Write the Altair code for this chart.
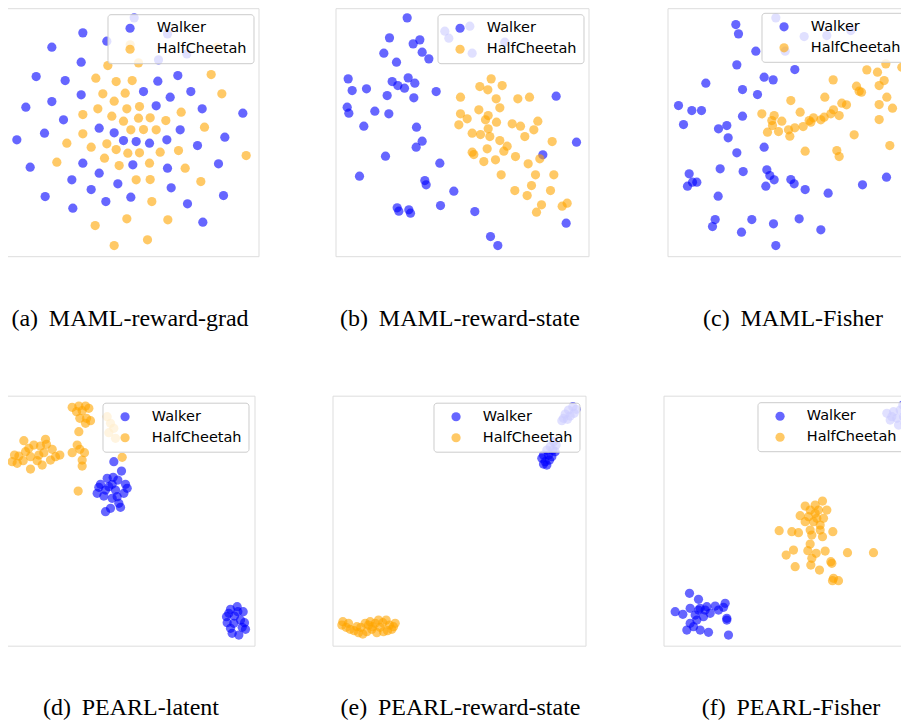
import altair as alt
import pandas as pd

SERIES = ["Walker", "HalfCheetah"]
COLORS = ["blue", "orange"]

CAPTIONS = [
    "(a) \u2009MAML-reward-grad",
    "(b) \u2009MAML-reward-state",
    "(c) \u2009MAML-Fisher",
    "(d) \u2009PEARL-latent",
    "(e) \u2009PEARL-reward-state",
    "(f) \u2009PEARL-Fisher",
]

# ---- (a) MAML-reward-grad : embedding coordinates ----
A_WALKER = [(258, 97), (165, 140), (330, 122), (412, 52), (512, 100), (570, 160), (485, 178),
            (253, 185), (118, 228), (205, 240), (483, 242), (543, 225), (253, 283), (440, 273),
            (582, 273), (520, 290), (165, 303), (478, 316), (87, 320), (616, 325), (738, 338),
            (200, 358), (307, 383), (550, 388), (143, 398), (352, 397), (60, 418), (380, 420),
            (418, 423), (458, 428), (510, 418), (684, 410), (602, 435), (258, 488), (408, 493),
            (100, 500), (512, 503), (665, 490), (307, 518), (225, 538), (363, 550), (283, 567),
            (523, 562), (145, 588), (402, 590), (327, 603), (680, 585), (228, 623), (572, 610),
            (618, 665)]
A_CHEETAH = [(660, 140), (400, 133), (333, 195), (425, 187), (643, 222), (297, 233), (358, 243),
             (406, 240), (675, 280), (318, 280), (385, 278), (352, 302), (303, 325), (390, 325),
             (428, 318), (553, 335), (258, 342), (345, 347), (425, 353), (460, 352), (380, 362),
             (507, 360), (623, 380), (402, 388), (440, 387), (478, 388), (258, 400), (210, 428),
             (330, 430), (283, 440), (358, 447), (393, 458), (428, 457), (490, 455), (545, 450),
             (323, 473), (180, 485), (458, 488), (367, 495), (565, 503), (418, 538), (460, 537),
             (612, 543), (748, 465), (465, 603), (390, 655), (513, 658), (295, 675), (452, 718),
             (352, 735)]

# ---- (b) MAML-reward-state ----
B_WALKER = [(240, 52), (187, 112), (278, 118), (258, 130), (285, 155), (305, 175), (170, 158),
            (208, 185), (353, 92), (365, 113), (428, 77), (435, 158), (533, 125), (63, 235),
            (195, 243), (243, 232), (212, 255), (232, 263), (263, 248), (75, 270), (118, 265),
            (180, 285), (260, 292), (327, 273), (60, 320), (65, 338), (143, 332), (185, 340),
            (110, 377), (268, 380), (285, 422), (267, 440), (175, 467), (338, 488), (97, 527),
            (293, 540), (297, 553), (380, 572), (210, 622), (215, 632), (245, 628), (250, 638),
            (340, 615), (443, 633), (490, 708), (512, 735), (687, 287), (748, 425), (647, 463),
            (717, 668)]
B_CHEETAH = [(492, 235), (458, 258), (482, 268), (525, 255), (400, 290), (507, 295), (572, 295),
             (607, 290), (518, 322), (455, 328), (400, 340), (420, 355), (483, 345), (475, 358),
             (508, 365), (395, 373), (555, 370), (580, 377), (632, 362), (620, 388), (483, 385),
             (435, 398), (460, 402), (488, 408), (593, 408), (518, 420), (675, 423), (540, 437),
             (480, 445), (530, 452), (435, 455), (440, 462), (565, 468), (638, 475), (470, 483),
             (505, 478), (603, 490), (625, 523), (522, 523), (680, 523), (613, 555), (563, 570),
             (670, 570), (600, 585), (643, 613), (705, 617), (720, 608), (628, 635)]

# ---- (c) MAML-Fisher ----
C_WALKER = [(235, 72), (243, 100), (355, 52), (440, 108), (508, 105), (580, 90), (383, 152),
            (295, 152), (238, 193), (412, 207), (320, 230), (347, 238), (145, 248), (255, 267),
            (300, 282), (63, 315), (103, 330), (132, 330), (255, 347), (78, 372), (183, 385),
            (208, 375), (212, 412), (320, 440), (238, 457), (188, 505), (257, 513), (328, 508),
            (337, 525), (350, 538), (325, 557), (95, 520), (90, 557), (105, 545), (118, 545),
            (400, 537), (410, 550), (443, 567), (512, 578), (615, 553), (687, 530), (182, 587),
            (173, 657), (165, 678), (283, 657), (348, 670), (425, 655), (252, 695), (490, 688),
            (355, 735)]
C_CHEETAH = [(685, 190), (628, 208), (660, 215), (733, 200), (527, 238), (680, 240), (665, 255),
             (597, 257), (605, 272), (612, 275), (502, 290), (688, 290), (400, 300), (553, 308),
             (567, 313), (665, 312), (705, 323), (750, 313), (313, 340), (428, 335), (528, 328),
             (520, 340), (545, 345), (350, 345), (373, 362), (500, 350), (490, 358), (468, 352),
             (455, 360), (437, 378), (412, 382), (393, 388), (363, 393), (345, 375), (330, 395),
             (397, 407), (665, 357), (590, 403), (697, 435), (443, 452), (538, 450), (545, 468),
             (460, 365), (343, 360)]

# ---- (d) PEARL-latent ----
D_WALKER = [(350, 215), (373, 243), (330, 265), (348, 262), (310, 283), (345, 283), (385, 283),
            (300, 310), (325, 300), (355, 300), (380, 310), (345, 325), (365, 340), (325, 365),
            (370, 352), (340, 355), (305, 292), (362, 270), (335, 290), (360, 320), (320, 318),
            (390, 295), (700, 658), (720, 650), (738, 665), (688, 680), (712, 678), (742, 698),
            (700, 715), (725, 735), (745, 718), (710, 700), (690, 698), (730, 690), (705, 730),
            (722, 665), (735, 712), (695, 670)]
D_CHEETAH = [(225, 52), (245, 48), (265, 48), (275, 55), (238, 65), (255, 62), (248, 85),
             (268, 85), (280, 92), (265, 100), (245, 125), (240, 165), (225, 188), (262, 188),
             (248, 178), (255, 210), (255, 228), (243, 303), (330, 80), (340, 100), (335, 128),
             (355, 145), (350, 115), (375, 202), (80, 152), (145, 148), (148, 163), (110, 165),
             (52, 195), (45, 215), (85, 185), (100, 200), (125, 195), (165, 178), (188, 195),
             (160, 210), (135, 225), (100, 237), (78, 212), (120, 212), (65, 198), (140, 188),
             (130, 168), (95, 175), (175, 200), (60, 220)]

# ---- (e) PEARL-reward-state ----
E_WALKER = [(738, 50), (748, 58), (725, 60), (715, 72), (710, 85), (730, 78), (742, 70),
            (722, 88), (705, 92), (680, 155), (688, 165), (670, 170), (660, 180), (678, 180),
            (650, 195), (665, 195), (645, 205), (655, 215), (668, 210), (650, 222), (660, 225),
            (675, 200), (685, 185)]
E_CHEETAH = [(48, 695), (45, 705), (58, 712), (70, 718), (82, 722), (95, 728), (108, 732),
             (102, 712), (115, 700), (125, 705), (135, 718), (145, 700), (150, 728), (160, 712),
             (168, 698), (178, 690), (188, 705), (200, 710), (205, 700), (182, 722), (170, 725),
             (120, 725), (90, 710), (65, 700), (138, 710), (195, 718), (130, 695), (155, 690)]

# ---- (f) PEARL-Fisher ----
F_WALKER = [(98, 610), (125, 628), (55, 665), (78, 673), (100, 655), (130, 655), (145, 660),
            (160, 670), (175, 648), (205, 640), (200, 652), (210, 685), (210, 690), (90, 720),
            (110, 710), (130, 720), (155, 727), (215, 735), (120, 690), (140, 680), (100, 700),
            (125, 660), (185, 660), (115, 675), (150, 650), (690, 70), (710, 65), (730, 60),
            (700, 90), (720, 85), (740, 80), (745, 100), (725, 105), (738, 45), (705, 80)]
F_CHEETAH = [(497, 333), (475, 345), (445, 348), (460, 360), (485, 360), (430, 377), (455, 380),
             (480, 385), (500, 385), (470, 395), (445, 395), (490, 405), (367, 422), (405, 425),
             (425, 428), (460, 420), (490, 420), (528, 425), (465, 435), (497, 440), (460, 462),
             (410, 480), (388, 495), (453, 482), (478, 490), (505, 483), (572, 488), (650, 488),
             (465, 505), (522, 515), (525, 520), (415, 530), (462, 525), (488, 540), (530, 565),
             (545, 572), (527, 572), (475, 370), (510, 360)]

# left/top of each panel's visible window in embedding units (3 units per pixel)
ORIGINS = [(26, 23), (25, 23), (30, 23), (25, 17), (17, 17), (20, 17)]
UNITS_PER_PX = 3
WIDTHS = [253, 253, 253, 249, 253, 253]
HEIGHTS = [248, 248, 248, 250, 250, 250]
CAPTION_DX = [-2, -2, -1, 1, 1.5, 1]
# legends of the right-most panels are nudged left so that their text stays on the page
LEGEND_X = [None, None, 94, None, None, 94]
LEGEND_OFFSET = [5.5, 5.5, 4.6, 6.5, 6.5, 6.5]


def panel(i, walker, cheetah):
    rows = [{"x": x, "y": y, "task": "Walker"} for x, y in walker]
    rows += [{"x": x, "y": y, "task": "HalfCheetah"} for x, y in cheetah]
    df = pd.DataFrame(rows)
    x0, y0 = ORIGINS[i]
    w, h = WIDTHS[i], HEIGHTS[i]
    title = alt.TitleParams(CAPTIONS[i], orient="bottom", anchor="middle",
                            font="Liberation Serif", fontSize=24, fontWeight="normal",
                            color="black", baseline="alphabetic", offset=69.5, dx=CAPTION_DX[i])
    common = dict(title=None, padding=6.8,
                  fillColor="rgba(255,255,255,0.8)", strokeColor="#cccccc",
                  cornerRadius=3, labelFont="DejaVu Sans", labelFontSize=14.5,
                  labelColor="black", labelOffset=19.5, rowPadding=6, symbolOffset=8.5,
                  symbolSize=85, symbolType="circle", symbolOpacity=0.6,
                  symbolStrokeWidth=0)
    if LEGEND_X[i] is None:
        legend = alt.Legend(orient="top-right", offset=LEGEND_OFFSET[i], **common)
    else:
        legend = alt.Legend(orient="none", legendX=LEGEND_X[i], legendY=LEGEND_OFFSET[i], **common)
    return alt.Chart(df, title=title).mark_circle(size=85, opacity=0.6, clip=True).encode(
        x=alt.X("x:Q", scale=alt.Scale(domain=[x0, x0 + w * UNITS_PER_PX], nice=False, zero=False),
                axis=None),
        y=alt.Y("y:Q", scale=alt.Scale(domain=[y0, y0 + h * UNITS_PER_PX], nice=False, zero=False,
                                       reverse=True), axis=None),
        color=alt.Color("task:N", scale=alt.Scale(domain=SERIES, range=COLORS), legend=legend),
    ).properties(width=w, height=h)


pa = panel(0, A_WALKER, A_CHEETAH)
pb = panel(1, B_WALKER, B_CHEETAH)
pc = panel(2, C_WALKER, C_CHEETAH)
pd_ = panel(3, D_WALKER, D_CHEETAH)
pe = panel(4, E_WALKER, E_CHEETAH)
pf = panel(5, F_WALKER, F_CHEETAH)


def spacer(h):
    # invisible narrow column at the left edge of a row
    return alt.Chart(pd.DataFrame({"v": [0]})).mark_point(opacity=0, size=0, clip=True).encode(
        x=alt.X("v:Q", axis=None), y=alt.Y("v:Q", axis=None)
    ).properties(width=1, height=h, view=alt.ViewBackground(stroke="transparent"))


def indep(c):
    return c.resolve_scale(x="independent", y="independent", color="independent").resolve_legend(
        color="independent")


row1 = indep(alt.hconcat(
    spacer(HEIGHTS[0]),
    indep(alt.hconcat(pa, indep(alt.hconcat(pb, pc, spacing=79, bounds="flush")),
                      spacing=77, bounds="flush")),
    spacing=3, bounds="flush"))
row2 = indep(alt.hconcat(
    spacer(HEIGHTS[3]),
    indep(alt.hconcat(pd_, pe, pf, spacing=78, bounds="flush")),
    spacing=3, bounds="flush"))
chart = indep(alt.vconcat(row1, row2, spacing=63.5)).properties(
    padding={"left": -7.5, "top": -0.8, "right": -21, "bottom": 0}
).configure_view(stroke="#111111", strokeWidth=1.2).configure(background="white")

chart.save("out.html", embed_options={"renderer": "svg", "actions": False})
